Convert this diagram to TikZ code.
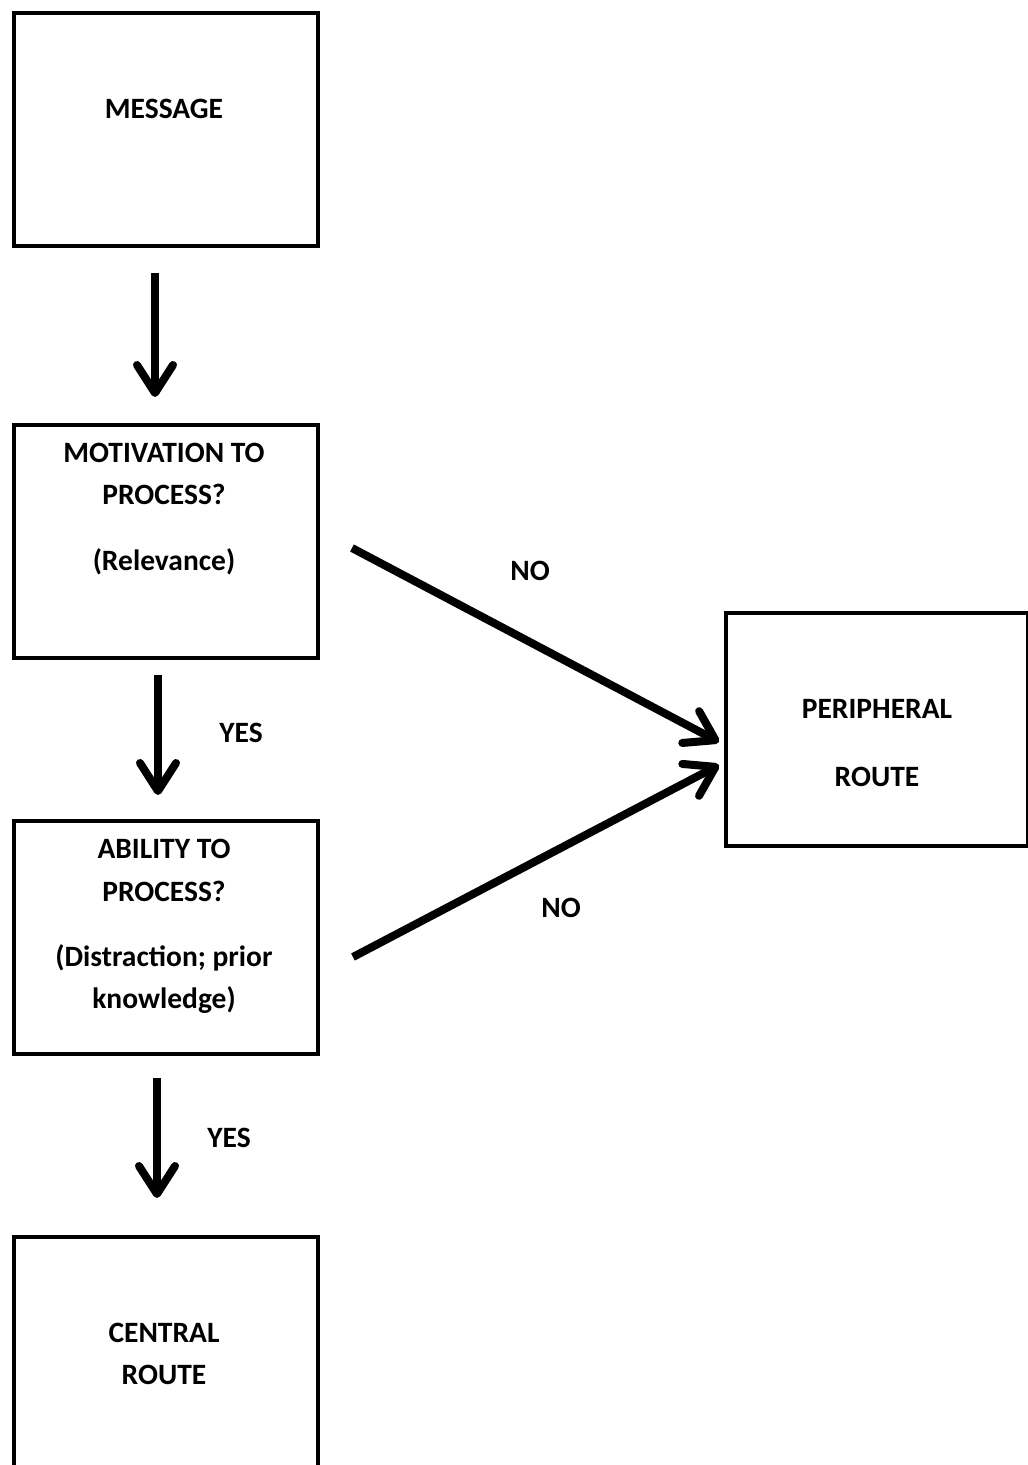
\documentclass[tikz,border=0pt]{standalone}
\usepackage{fontspec}
\setmainfont{Carlito}
\usetikzlibrary{arrows.meta,calc}
\begin{document}
\begin{tikzpicture}[x=1pt,y=-1pt,
  box/.style={draw,line width=3.5pt,minimum width=304pt,minimum height=233pt,anchor=north west,inner sep=0pt},
  txt/.style={font=\fontsize{29.5}{40}\selectfont\bfseries,align=center,inner sep=0pt},
  flow/.style={line width=8pt,-{Straight Barb[round,length=28pt,width=36pt,line width=8pt]}}]
  \useasboundingbox[fill=white] (0,0) rectangle (1028,1465);

  % boxes
  \node[box] (msg) at (12,11) {};
  \node[box] (mot) at (12,423) {};
  \node[box] (abi) at (12,819) {};
  \node[box,minimum height=300pt] (cen) at (12,1235) {};
  \node[box,minimum width=302pt] (per) at (724,611) {};

  % box texts
  \node[txt] (msgT) at (164,109) {MESSAGE};
  \node[txt] (motT1) at (164,453) {MOTIVATION TO};
  \node[txt] (motT2) at (164,494) {PROCESS?};
  \node[txt] (motT3) at (164,562) {(Relevance)};
  \node[txt] (abiT1) at (164,849) {ABILITY TO};
  \node[txt] (abiT2) at (164,891) {PROCESS?};
  \node[txt] (abiT3) at (164,958) {(Distraction; prior};
  \node[txt] (abiT4) at (164,1000) {knowledge)};
  \node[txt] (cenT1) at (164,1333) {CENTRAL};
  \node[txt] (cenT2) at (164,1375) {ROUTE};
  \node[txt] (perT1) at (877,709) {PERIPHERAL};
  \node[txt] (perT2) at (877,777) {ROUTE};

  % connector end points
  \coordinate (a1s) at (155,273);
  \coordinate (a1e) at (155,397);
  \coordinate (a2s) at (158,675);
  \coordinate (a2e) at (158,795);
  \coordinate (a3s) at (157,1078);
  \coordinate (a3e) at (157,1198);
  \coordinate (d1s) at (352,548);
  \coordinate (d1e) at (719,742);
  \coordinate (d2s) at (353,957);
  \coordinate (d2e) at (719,765);

  \draw[flow] (a1s) -- (a1e);
  \draw[flow] (a2s) -- (a2e);
  \draw[flow] (a3s) -- (a3e);
  \draw[flow] (d1s) -- (d1e);
  \draw[flow] (d2s) -- (d2e);

  % branch labels
  \node[txt] (no1) at (530,571) {NO};
  \node[txt] (yes1) at (241,733) {YES};
  \node[txt] (no2) at (561,908) {NO};
  \node[txt] (yes2) at (229,1138) {YES};
\end{tikzpicture}
\end{document}
